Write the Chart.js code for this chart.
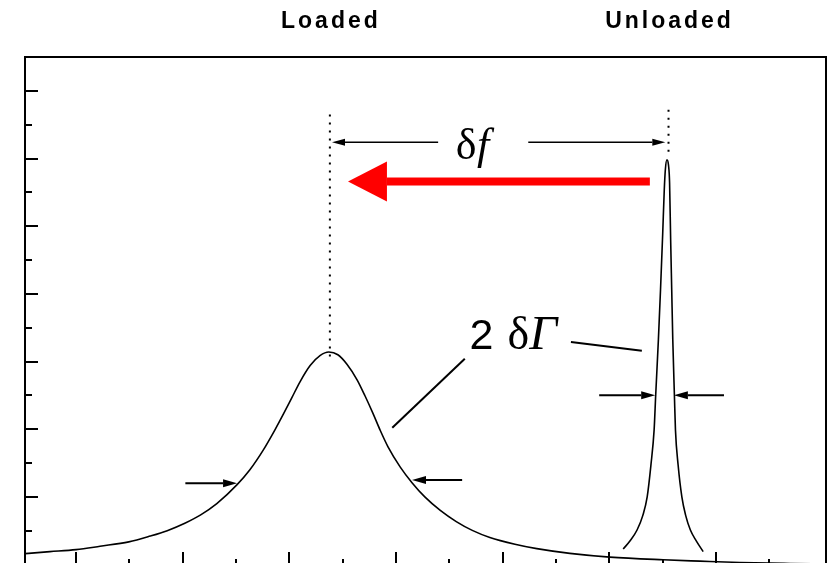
<!DOCTYPE html>
<html lang="en">
<head>
<meta charset="UTF-8">
<title>Loaded and unloaded resonance</title>
<script src="https://cdn.jsdelivr.net/npm/chart.js"></script>
<style>
  html, body { margin: 0; padding: 0; background: #fff; overflow: hidden; }
</style>
</head>
<body>
<canvas id="resonance" width="830" height="580"></canvas>
<script>
// frequency in tick steps, amplitude in major-tick steps
const loadedX = [0.02, 0.51, 1.00, 1.45, 1.99, 2.39, 2.71, 3.04, 3.33, 3.64, 4.02, 4.26, 4.51, 4.73, 4.88,
                 5.05, 5.20, 5.39, 5.58, 5.74, 5.91, 6.08, 6.27, 6.42, 6.57, 6.70, 6.85, 7.08, 7.30, 7.54,
                 7.83, 8.13, 8.43, 8.76, 9.23, 9.64, 10.26, 11.01, 12.01, 12.70, 13.45, 14.39, 15.06];
const loadedY = [0.16, 0.19, 0.22, 0.27, 0.335, 0.42, 0.50, 0.61, 0.73, 0.90, 1.18, 1.40, 1.69, 1.99, 2.21,
                 2.47, 2.70, 2.94, 3.09, 3.14, 3.10, 2.96, 2.73, 2.49, 2.23, 1.99, 1.74, 1.44, 1.21, 1.00,
                 0.80, 0.635, 0.505, 0.40, 0.30, 0.235, 0.165, 0.11, 0.07, 0.05, 0.03, 0.015, 0.007];
const unloadedX = [11.26, 11.39, 11.52, 11.63, 11.71, 11.78, 11.84, 11.87, 11.92, 11.96, 12.00, 12.03, 12.05, 12.08,
                   12.11, 12.13, 12.15, 12.17, 12.19, 12.22, 12.24, 12.29, 12.36, 12.43, 12.52, 12.63, 12.76];
const unloadedY = [0.23, 0.35, 0.51, 0.73, 1.00, 1.47, 1.99, 2.51, 3.32, 4.06, 4.87, 5.53, 5.83, 5.98,
                   5.90, 5.64, 4.80, 4.06, 3.32, 2.51, 1.99, 1.47, 1.00, 0.73, 0.51, 0.35, 0.19];

const peakNames = ['Loaded', 'Unloaded'];
const peakCentres = [5.76, 12.11];
const xTicks = [1, 2, 3, 4, 5, 6, 7, 8, 9, 10, 11, 12, 13, 14];
const yTicks = [0.5, 1, 1.5, 2, 2.5, 3, 3.5, 4, 4.5, 5, 5.5, 6, 6.5, 7];

// annotation positions, data units
const markerTop = [6.65, 6.72];
const markerBottom = [3.0, 6.05];
const shiftY = 6.24;
const shiftGap = [7.79, 9.48];
const redArrow = { from: 11.76, base: 6.83, tip: 6.10, y: 5.66 };
const widthMarks = [[3.05, 4.02, 1.20], [8.24, 7.30, 1.25], [10.81, 11.86, 2.50], [13.15, 12.21, 2.50]];
const leaders = [[[10.28, 3.29], [11.61, 3.16]], [[8.29, 3.04], [6.93, 2.02]]];

const INK = '#000';
const pts = (xs, ys) => xs.map((x, i) => ({ x, y: ys[i] }));

function arrow(ctx, x1, y1, x2, y2, len, half) {
  const a = Math.atan2(y2 - y1, x2 - x1);
  const bx = x2 - len * Math.cos(a), by = y2 - len * Math.sin(a);
  ctx.beginPath();
  ctx.moveTo(x1, y1);
  ctx.lineTo(bx, by);
  ctx.stroke();
  ctx.beginPath();
  ctx.moveTo(x2, y2);
  ctx.lineTo(bx + half * Math.sin(a), by - half * Math.cos(a));
  ctx.lineTo(bx - half * Math.sin(a), by + half * Math.cos(a));
  ctx.closePath();
  ctx.fill();
}

// inward tick marks, long on the major steps
const tickMarks = {
  id: 'tickMarks',
  afterDraw(chart) {
    const { ctx, chartArea: area, scales: { x, y } } = chart;
    ctx.save();
    ctx.strokeStyle = INK;
    ctx.lineWidth = 2;
    yTicks.forEach(v => {
      const py = Math.round(y.getPixelForValue(v));
      const len = Number.isInteger(v) ? 13 : 7;
      ctx.beginPath();
      ctx.moveTo(area.left, py);
      ctx.lineTo(area.left + len, py);
      ctx.stroke();
    });
    xTicks.forEach(v => {
      const px = Math.round(x.getPixelForValue(v));
      const len = v % 2 ? 13 : 6;
      ctx.beginPath();
      ctx.moveTo(px, area.bottom);
      ctx.lineTo(px, area.bottom - len);
      ctx.stroke();
    });
    ctx.restore();
  }
};

const notes = {
  id: 'notes',
  afterDraw(chart) {
    const { ctx, chartArea: area, scales: { x, y } } = chart;
    const X = v => x.getPixelForValue(v), Y = v => y.getPixelForValue(v);
    ctx.save();
    ctx.fillStyle = INK;
    ctx.strokeStyle = INK;

    // dotted markers through the maxima
    ctx.lineWidth = 2;
    ctx.setLineDash([2, 6]);
    peakCentres.forEach((c, i) => {
      ctx.beginPath();
      ctx.moveTo(X(c), Y(markerTop[i]));
      ctx.lineTo(X(c), Y(markerBottom[i]));
      ctx.stroke();
    });
    ctx.setLineDash([]);

    // δf bracket
    ctx.lineWidth = 1.6;
    arrow(ctx, X(shiftGap[0]), Y(shiftY), X(peakCentres[0] + 0.04), Y(shiftY), 13, 3.5);
    arrow(ctx, X(shiftGap[1]), Y(shiftY), X(peakCentres[1] - 0.06), Y(shiftY), 13, 3.5);
    ctx.font = '44px "Liberation Serif"';
    ctx.textBaseline = 'alphabetic';
    ctx.fillText('δ', X(8.12), Y(6.0));
    ctx.font = 'italic 44px "Liberation Serif"';
    ctx.fillText('f', X(8.52), Y(6.0));

    // red shift arrow
    ctx.fillStyle = '#ff0000';
    const ry = Y(redArrow.y);
    ctx.fillRect(X(redArrow.base), ry - 4, X(redArrow.from) - X(redArrow.base), 8);
    ctx.beginPath();
    ctx.moveTo(X(redArrow.tip), ry);
    ctx.lineTo(X(redArrow.base), ry - 20);
    ctx.lineTo(X(redArrow.base), ry + 20);
    ctx.closePath();
    ctx.fill();
    ctx.fillStyle = INK;

    // width markers
    ctx.lineWidth = 2;
    widthMarks.forEach(([t, h, v]) => arrow(ctx, X(t), Y(v), X(h), Y(v), 14, 4));

    // 2δΓ label and leaders
    leaders.forEach(([a, b]) => {
      ctx.beginPath();
      ctx.moveTo(X(a[0]), Y(a[1]));
      ctx.lineTo(X(b[0]), Y(b[1]));
      ctx.stroke();
    });
    ctx.font = '43px "Liberation Sans"';
    ctx.fillText('2', X(8.38), Y(3.185));
    ctx.font = '46px "Liberation Serif"';
    ctx.fillText('δ', X(9.09), Y(3.185));
    ctx.font = 'italic 49px "Liberation Serif"';
    ctx.fillText('Γ', X(9.50), Y(3.185));

    // curve names above the frame
    ctx.font = 'bold 23px "Liberation Sans"';
    ctx.letterSpacing = '3px';
    ctx.textAlign = 'center';
    peakNames.forEach((name, i) => ctx.fillText(name, X(peakCentres[i]) + 1, area.top - 29));
    ctx.restore();
  }
};

const frameAxis = (position) => ({
  type: 'linear',
  position,
  display: true,
  ticks: { display: false },
  grid: { display: false, drawTicks: false },
  border: { display: true, color: INK, width: 2 }
});

new Chart(document.getElementById('resonance'), {
  type: 'scatter',
  data: {
    datasets: [
      {
        data: pts(loadedX, loadedY),
        showLine: true,
        borderColor: INK,
        borderWidth: 1.6,
        pointRadius: 0,
        cubicInterpolationMode: 'monotone'
      },
      {
        data: pts(unloadedX, unloadedY),
        showLine: true,
        borderColor: INK,
        borderWidth: 1.6,
        pointRadius: 0,
        cubicInterpolationMode: 'monotone'
      }
    ]
  },
  options: {
    responsive: false,
    animation: false,
    layout: { padding: { left: 25, top: 57, right: 4, bottom: 15 } },
    plugins: { legend: { display: false }, tooltip: { enabled: false } },
    scales: {
      x: Object.assign(frameAxis('bottom'), { min: 0.043, max: 15.063 }),
      y: Object.assign(frameAxis('left'), { min: -0.007, max: 7.5 }),
      x2: frameAxis('top'),
      y2: frameAxis('right')
    }
  },
  plugins: [tickMarks, notes]
});
</script>
</body>
</html>
